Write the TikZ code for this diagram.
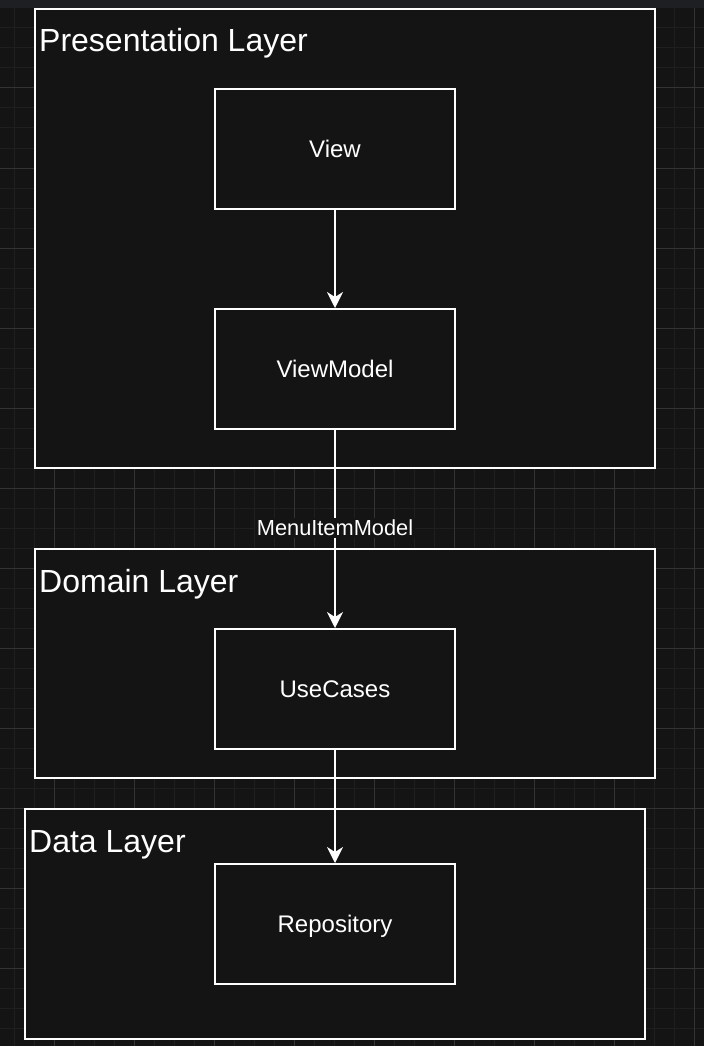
\documentclass[tikz,border=0pt]{standalone}
\usepackage{fontspec}
\setmainfont{Liberation Sans}
\usetikzlibrary{arrows.meta}
\definecolor{canvas}{HTML}{141414}
\definecolor{gridminor}{HTML}{1F1F1F}
\definecolor{gridmajor}{HTML}{333333}
\definecolor{topstrip}{HTML}{1E1F22}
\tikzset{
  layerbox/.style={draw=white, line width=2pt, fill=canvas},
  compbox/.style={draw=white, line width=2pt, fill=canvas, minimum width=240pt, minimum height=120pt, inner sep=0pt, text depth=0pt, text=white, font=\fontsize{24}{28}\selectfont},
  layerlabel/.style={anchor=base west, inner sep=0pt, text=white, font=\fontsize{32}{38}\selectfont},
  conn/.style={draw=white, line width=1.6pt, -{Stealth[length=16pt, width=16pt, inset=5pt]}},
  connlabel/.style={fill=canvas, text=white, inner sep=2pt, font=\fontsize{21.8}{26}\selectfont}
}
\begin{document}
\begin{tikzpicture}[x=1pt, y=-1pt]
\useasboundingbox (0,0) rectangle (704,1046);
\fill[canvas] (0,0) rectangle (704,1046);
% grid
\foreach \gx in {14,34,...,694} \draw[gridminor, line width=1pt] (\gx,8) -- (\gx,1046);
\foreach \gy in {28,48,...,1040} \draw[gridminor, line width=1pt] (0,\gy) -- (704,\gy);
\foreach \gx in {54,134,...,694} \draw[gridmajor, line width=1pt] (\gx,8) -- (\gx,1046);
\foreach \gy in {88,168,...,1040} \draw[gridmajor, line width=1pt] (0,\gy) -- (704,\gy);
\fill[topstrip] (0,0) rectangle (704,8);
% layers
\draw[layerbox] (35,9) rectangle (655,468);
\draw[layerbox] (35,549) rectangle (655,778);
\draw[layerbox] (25,809) rectangle (645,1039);
\node[layerlabel] (lp) at (39,52) {Presentation Layer};
\node[layerlabel] (ld) at (39,592) {Domain Layer};
\node[layerlabel] (la) at (29,852) {Data Layer};
% components
\node[compbox] (view) at (335,149) {View};
\node[compbox] (vm) at (335,369) {ViewModel};
\node[compbox] (uc) at (335,689) {UseCases};
\node[compbox] (repo) at (335,924) {Repository};
% connectors
\draw[conn] (view) -- (vm);
\draw[conn] (vm) -- node[connlabel, pos=0.495] {MenuItemModel} (uc);
\draw[conn] (uc) -- (repo);
\end{tikzpicture}
\end{document}
